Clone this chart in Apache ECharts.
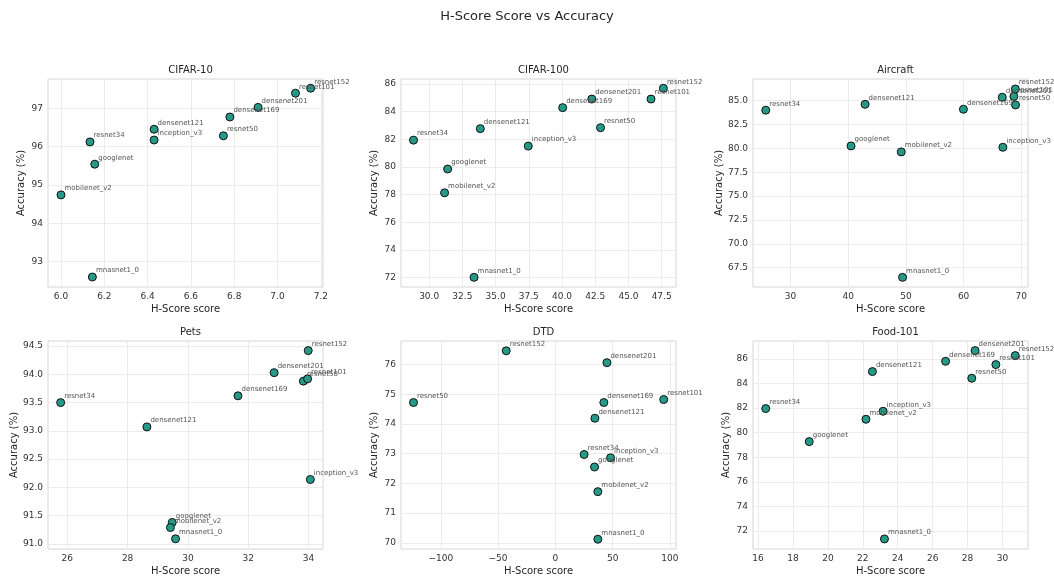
<!DOCTYPE html>
<html><head><meta charset="utf-8">
<script src="https://cdn.jsdelivr.net/npm/echarts@6/dist/echarts.min.js"></script>
<style>html,body{margin:0;padding:0;background:#fff}#c{width:1054px;height:583px}</style>
</head><body><div id="c"></div>
<script>
const models = ["resnet34","resnet50","resnet101","resnet152","densenet121","densenet169","densenet201","googlenet","inception_v3","mobilenet_v2","mnasnet1_0"];

const datasets = ["CIFAR-10","CIFAR-100","Aircraft","Pets","DTD","Food-101"];

// H-Score values per dataset (order as models)
const hCifar10   = [6.134, 6.75, 7.083, 7.153, 6.43, 6.78, 6.91, 6.156, 6.43, 6.0, 6.145];
const accCifar10 = [96.12, 96.28, 97.39, 97.52, 96.45, 96.77, 97.02, 95.54, 96.17, 94.74, 92.6];

const hCifar100   = [28.82, 42.9, 46.7, 47.63, 33.85, 40.05, 42.24, 31.39, 37.46, 31.16, 33.38];
const accCifar100 = [81.94, 82.84, 84.91, 85.69, 82.77, 84.29, 84.91, 79.85, 81.51, 78.13, 72.02];

const hAircraft   = [25.71, 69.0, 68.72, 68.96, 42.93, 59.97, 66.7, 40.49, 66.81, 49.19, 49.42];
const accAircraft = [84.0, 84.55, 85.45, 86.22, 84.62, 84.1, 85.35, 80.26, 80.12, 79.63, 66.49];

const hPets   = [25.78, 33.83, 33.97, 33.99, 28.64, 31.66, 32.86, 29.48, 34.06, 29.42, 29.59];
const accPets = [93.5, 93.88, 93.92, 94.42, 93.07, 93.62, 94.03, 91.38, 92.14, 91.29, 91.09];

const hDtd   = [25.1, -123.8, 94.6, -42.9, 34.5, 42.3, 45.0, 34.2, 48.2, 37.1, 37.1];
const accDtd = [72.97, 74.72, 74.82, 76.46, 74.19, 74.72, 76.06, 72.55, 72.86, 71.72, 70.12];

const hFood   = [16.44, 28.24, 29.62, 30.73, 22.55, 26.74, 28.43, 18.93, 23.16, 22.18, 23.24];
const accFood = [81.96, 84.43, 85.54, 86.27, 84.97, 85.81, 86.68, 79.27, 81.74, 81.09, 71.35];

// tick labels
const xTicks = [
  [6.0, 6.2, 6.4, 6.6, 6.8, 7.0, 7.2],
  [30.0, 32.5, 35.0, 37.5, 40.0, 42.5, 45.0, 47.5],
  [30, 40, 50, 60, 70],
  [26, 28, 30, 32, 34],
  [-100, -50, 0, 50, 100],
  [16, 18, 20, 22, 24, 26, 28, 30]
];
const yTicks = [
  [93, 94, 95, 96, 97],
  [72, 74, 76, 78, 80, 82, 84, 86],
  [67.5, 70.0, 72.5, 75.0, 77.5, 80.0, 82.5, 85.0],
  [91.0, 91.5, 92.0, 92.5, 93.0, 93.5, 94.0, 94.5],
  [70, 71, 72, 73, 74, 75, 76],
  [72, 74, 76, 78, 80, 82, 84, 86]
];
const xDecimals = [1, 1, 0, 0, 0, 0];
const yDecimals = [0, 0, 1, 1, 0, 0];

const hAll = [hCifar10, hCifar100, hAircraft, hPets, hDtd, hFood];
const accAll = [accCifar10, accCifar100, accAircraft, accPets, accDtd, accFood];

// layout (pixels)
const xRange = [[5.94, 7.21], [27.88, 48.58], [23.5, 71.16], [25.36, 34.48], [-134.7, 105.3], [15.71, 31.46]];
const yRange = [[92.34, 97.76], [71.32, 86.36], [65.48, 87.27], [90.91, 94.59], [69.79, 76.79], [70.53, 87.46]];
const gridPos = [
  {left: 48, top: 79}, {left: 401, top: 79}, {left: 753, top: 79},
  {left: 48, top: 341}, {left: 401, top: 341}, {left: 753, top: 341}
];
const GW = 275, GH = 208;
const FONT = "DejaVu Sans";

function fmt(v, d) {
  let s = Number(v).toFixed(d);
  return s.replace('-', '\u2212');
}

const grids = [], xAxes = [], yAxes = [], series = [], titles = [];
titles.push({text: "H-Score Score vs Accuracy", left: 'center', top: 5,
  textStyle: {fontFamily: FONT, fontSize: 13, fontWeight: 'normal', color: '#262626'}});

for (let i = 0; i < 6; i++) {
  const g = gridPos[i];
  grids.push({left: g.left, top: g.top, width: GW, height: GH, show: true,
    borderColor: '#d6d6d6', borderWidth: 1, backgroundColor: '#fff', containLabel: false});
  titles.push({text: datasets[i], left: g.left + GW / 2, top: g.top - 19, textAlign: 'center',
    textStyle: {fontFamily: FONT, fontSize: 10, fontWeight: 'normal', color: '#262626'}});
  xAxes.push({
    type: 'value', gridIndex: i, min: xRange[i][0], max: xRange[i][1],
    name: 'H-Score score', nameLocation: 'middle', nameGap: 17,
    nameTextStyle: {fontFamily: FONT, fontSize: 10, color: '#262626'},
    axisLine: {show: false}, axisTick: {show: false, customValues: xTicks[i]},
    axisLabel: {customValues: xTicks[i], fontFamily: FONT, fontSize: 9, color: '#333', margin: 5,
      formatter: (v) => fmt(v, xDecimals[i])},
    splitLine: {show: true, lineStyle: {color: '#ebebeb', width: 1}}
  });
  yAxes.push({
    type: 'value', gridIndex: i, min: yRange[i][0], max: yRange[i][1],
    name: 'Accuracy (%)', nameLocation: 'middle', nameGap: 22,
    nameTextStyle: {fontFamily: FONT, fontSize: 10, color: '#262626'},
    axisLine: {show: false}, axisTick: {show: false, customValues: yTicks[i]},
    axisLabel: {customValues: yTicks[i], fontFamily: FONT, fontSize: 9, color: '#333', margin: 5,
      formatter: (v) => fmt(v, yDecimals[i])},
    splitLine: {show: true, lineStyle: {color: '#ebebeb', width: 1}}
  });
  series.push({
    type: 'scatter', xAxisIndex: i, yAxisIndex: i, symbolSize: 8,
    itemStyle: {color: '#259a87', borderColor: '#111', borderWidth: 1, opacity: 1},
    label: {show: true, formatter: (p) => p.name, position: [8, -2], align: 'left', verticalAlign: 'middle',
      fontFamily: FONT, fontSize: 7, color: '#555'},
    emphasis: {disabled: true},
    data: models.map((m, k) => ({name: m, value: [hAll[i][k], accAll[i][k]]}))
  });
}

const chart = echarts.init(document.getElementById('c'), null, {renderer: 'canvas'});
chart.setOption({animation: false, backgroundColor: '#fff', title: titles, grid: grids,
  xAxis: xAxes, yAxis: yAxes, series: series});
</script></body></html>
